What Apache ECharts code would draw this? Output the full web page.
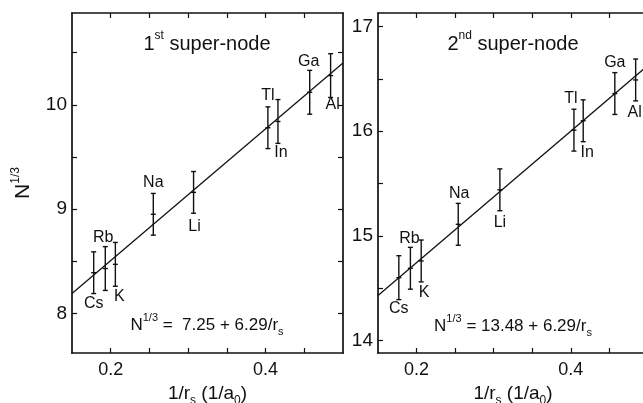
<!DOCTYPE html>
<html>
<head>
<meta charset="utf-8">
<script src="https://cdn.jsdelivr.net/npm/echarts@6/dist/echarts.min.js"></script>
<style>
  html, body { margin: 0; padding: 0; background: #fff; }
  #chart { width: 643px; height: 403px; }
</style>
</head>
<body>
<div id="chart"></div>
<script>
var myChart = echarts.init(document.getElementById('chart'));

// data
var elements = ['Cs', 'Rb', 'K', 'Na', 'Li', 'Tl', 'In', 'Ga', 'Al'];

var xLeft = [0.178, 0.193, 0.206, 0.255, 0.307, 0.403, 0.416, 0.457, 0.484];
var yLeft = [8.39, 8.43, 8.47, 8.95, 9.16, 9.78, 9.84, 10.12, 10.28];
var errLeft = [0.2, 0.21, 0.21, 0.2, 0.2, 0.2, 0.21, 0.21, 0.21];
var fitLeft = [[0.15, 8.19], [0.5, 10.40]];

var xRight = [0.177, 0.192, 0.206, 0.254, 0.308, 0.404, 0.416, 0.457, 0.484];
var yRight = [14.60, 14.69, 14.76, 15.11, 15.44, 16.01, 16.10, 16.36, 16.49];
var errRight = [0.21, 0.2, 0.2, 0.2, 0.2, 0.2, 0.2, 0.2, 0.2];
var fitRight = [[0.15, 14.43], [0.5, 16.63]];

var xTicks = [0.2, 0.25, 0.3, 0.35, 0.4, 0.45];
var xLabels = [0.2, 0.4];
var yTicksLeft = [8, 8.5, 9, 9.5, 10, 10.5];
var yLabelsLeft = [8, 9, 10];
var yTicksRight = [14, 14.5, 15, 15.5, 16, 16.5, 17];
var yLabelsRight = [14, 15, 16, 17];

// label offsets in pixels from the point (layout only)
var offsLeft = [[0, 31], [-2, -31], [4, 32], [0, -32], [1, 34], [0, -32], [3, 31], [-1, -31], [2, 29]];
var offsRight = [[0, 31], [-1, -30], [3, 32], [1, -31], [0, 33], [-3, -32], [4, 32], [0, -31], [-1, 33]];

var FONT = 'Liberation Sans, Arial, sans-serif';
var black = '#111';

function points(xs, ys, es) {
    return xs.map(function (x, i) { return [x, ys[i], es[i]]; });
}

function errorRenderer(offs) {
    return function (params, api) {
        var x = api.value(0), y = api.value(1), e = api.value(2);
        var c = api.coord([x, y]);
        var lo = api.coord([x, y - e]);
        var hi = api.coord([x, y + e]);
        var st = { stroke: black, lineWidth: 1.4 };
        var o = offs[params.dataIndex];
        return {
            type: 'group',
            children: [
                { type: 'line', shape: { x1: c[0], y1: hi[1], x2: c[0], y2: lo[1] }, style: st },
                { type: 'line', shape: { x1: c[0] - 2.5, y1: hi[1], x2: c[0] + 2.5, y2: hi[1] }, style: st },
                { type: 'line', shape: { x1: c[0] - 2.5, y1: lo[1], x2: c[0] + 2.5, y2: lo[1] }, style: st },
                { type: 'line', shape: { x1: c[0] - 2.5, y1: c[1], x2: c[0] + 2.5, y2: c[1] }, style: st },
                {
                    type: 'text',
                    style: {
                        text: elements[params.dataIndex],
                        x: c[0] + o[0], y: c[1] + o[1],
                        align: 'center', verticalAlign: 'middle',
                        font: '16px ' + FONT, fill: black
                    }
                }
            ]
        };
    };
}

var nameRich = {
    n: { fontSize: 19, fontFamily: FONT, color: black, lineHeight: 22, verticalAlign: 'bottom' },
    big: { fontSize: 21, fontFamily: FONT, color: black, lineHeight: 24, verticalAlign: 'bottom' },
    sup: { fontSize: 12, fontFamily: FONT, color: black, lineHeight: 24, verticalAlign: 'top' },
    sub: { fontSize: 12, fontFamily: FONT, color: black, lineHeight: 14, verticalAlign: 'bottom', padding: [0, 0, -4, 0] }
};

function xAxisPair(grid) {
    var base = {
        gridIndex: grid, type: 'value', min: 0.15, max: 0.5,
        axisLine: { onZero: false, lineStyle: { color: black, width: 1.7 } },
        axisTick: { inside: true, length: 5, customValues: xTicks, lineStyle: { color: black, width: 1.2 } },
        splitLine: { show: false }
    };
    var bottom = Object.assign({}, base, {
        position: 'bottom',
        axisLabel: {
            customValues: xLabels, color: black, fontSize: 18, fontFamily: FONT, margin: 8,
            formatter: function (v) { return v.toFixed(1); }
        },
        name: '{n|1/r}{sub|s}{n| (1/a}{sub|0}{n|)}',
        nameLocation: 'middle', nameGap: 28,
        nameTextStyle: { rich: nameRich }
    });
    var top = Object.assign({}, base, { position: 'top', axisLabel: { show: false } });
    return [bottom, top];
}

function yAxisPair(grid, min, max, ticks, labels, name) {
    var base = {
        gridIndex: grid, type: 'value', min: min, max: max,
        axisLine: { onZero: false, lineStyle: { color: black, width: 1.7 } },
        axisTick: { inside: true, length: 5, customValues: ticks, lineStyle: { color: black, width: 1.2 } },
        splitLine: { show: false }
    };
    var left = Object.assign({}, base, {
        position: 'left',
        axisLabel: { customValues: labels, color: black, fontSize: 19, fontFamily: FONT, margin: 5 }
    });
    if (name) {
        left.name = name;
        left.nameLocation = 'middle';
        left.nameGap = 38;
        left.nameTextStyle = { rich: nameRich };
    }
    var right = Object.assign({}, base, { position: 'right', axisLabel: { show: false } });
    return [left, right];
}

function annot(text, x, y, size) {
    return {
        type: 'text', x: x, y: y,
        style: {
            text: text, align: 'center', verticalAlign: 'middle',
            rich: {
                n: { fontSize: size, fontFamily: FONT, fill: black, lineHeight: size + 4, verticalAlign: 'bottom' },
                sup: { fontSize: Math.round(size * 0.62), fontFamily: FONT, fill: black, lineHeight: size + 4, verticalAlign: 'top' },
                sub: { fontSize: Math.round(size * 0.62), fontFamily: FONT, fill: black, lineHeight: size - 2, verticalAlign: 'bottom', padding: [0, 0, -4, 0] }
            }
        }
    };
}

option = {
    backgroundColor: '#fff',
    animation: false,
    grid: [
        { left: 72, top: 13, width: 271, height: 340, outerBoundsMode: 'none', containLabel: false },
        { left: 378, top: 13, width: 270, height: 340, outerBoundsMode: 'none', containLabel: false }
    ],
    xAxis: xAxisPair(0).concat(xAxisPair(1)),
    yAxis: yAxisPair(0, 7.62, 10.88, yTicksLeft, yLabelsLeft, '{big|N}{sup|1/3}')
        .concat(yAxisPair(1, 13.88, 17.13, yTicksRight, yLabelsRight, null)),
    series: [
        {
            type: 'line', xAxisIndex: 0, yAxisIndex: 0, data: fitLeft,
            showSymbol: false, clip: true, lineStyle: { color: black, width: 1.3 }
        },
        {
            type: 'line', xAxisIndex: 2, yAxisIndex: 2, data: fitRight,
            showSymbol: false, clip: true, lineStyle: { color: black, width: 1.3 }
        },
        {
            type: 'custom', xAxisIndex: 0, yAxisIndex: 0,
            data: points(xLeft, yLeft, errLeft),
            renderItem: errorRenderer(offsLeft)
        },
        {
            type: 'custom', xAxisIndex: 2, yAxisIndex: 2,
            data: points(xRight, yRight, errRight),
            renderItem: errorRenderer(offsRight)
        }
    ],
    graphic: [
        annot('{n|1}{sup|st}{n| super-node}', 207, 42, 20),
        annot('{n|2}{sup|nd}{n| super-node}', 513, 42, 20),
        annot('{n|N}{sup|1/3}{n| =  7.25 + 6.29/r}{sub|s}', 207, 323, 17),
        annot('{n|N}{sup|1/3}{n| = 13.48 + 6.29/r}{sub|s}', 513, 324, 17)
    ]
};

myChart.setOption(option);
</script>
</body>
</html>
